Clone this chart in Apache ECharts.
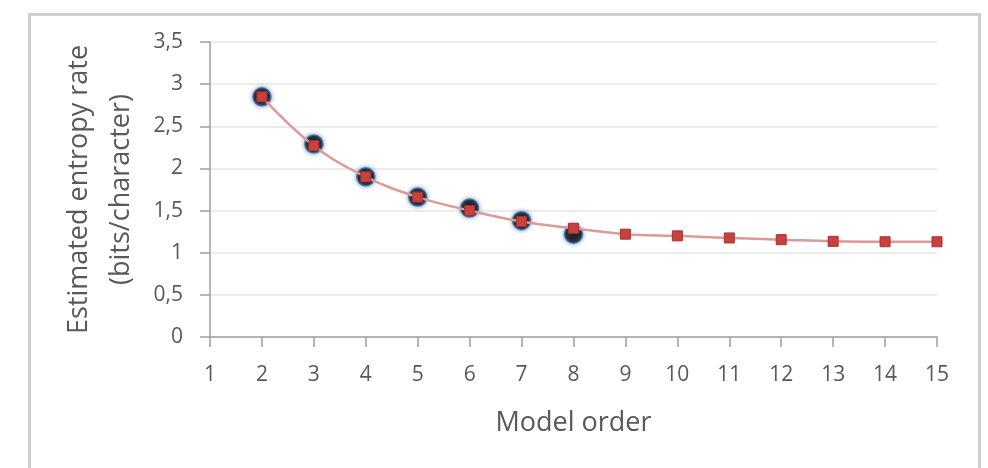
<!DOCTYPE html>
<html>
<head>
<meta charset="utf-8">
<style>
html,body{margin:0;padding:0;background:#fff;}
#c{width:988px;height:468px;}
</style>
<script src="https://cdn.jsdelivr.net/npm/echarts@6/dist/echarts.min.js"></script>
</head>
<body>
<div id="c"></div>
<script>
var measuredOrders = [2, 3, 4, 5, 6, 7, 8];
var measuredValues = [2.85, 2.29, 1.90, 1.66, 1.53, 1.38, 1.22];
var fitOrders = [2, 3, 4, 5, 6, 7, 8, 9, 10, 11, 12, 13, 14, 15];
var fitValues = [2.85, 2.27, 1.90, 1.66, 1.50, 1.37, 1.29, 1.22, 1.20, 1.175, 1.155, 1.135, 1.13, 1.13];
var xTicks = [1, 15, 1];   // min, max, interval
var yTicks = [0, 3.5, 0.5];
var xName = 'Model order';
var yName = 'Estimated entropy rate\n(bits/character)';

function pairs(xs, ys){ return xs.map(function(x,i){ return [x, ys[i]]; }); }

var font = '"Open Sans", "Noto Sans", sans-serif';
var chart = echarts.init(document.getElementById('c'));
chart.setOption({
  animation: false,
  backgroundColor: '#fff',
  graphic: [{
    type: 'rect', left: 27, top: 12,
    shape: {x: 0, y: 0, width: 950, height: 520},
    style: {fill: 'none', stroke: '#cfcfcf', lineWidth: 3},
    z: -1
  }],
  grid: {left: 210, right: 51, top: 42, bottom: 131},
  xAxis: {
    type: 'value', min: xTicks[0], max: xTicks[1], interval: xTicks[2],
    name: xName, nameLocation: 'middle', nameGap: 73,
    nameTextStyle: {fontFamily: font, fontSize: 27, color: '#595959'},
    axisLine: {show: true, lineStyle: {color: '#a0a0a0', width: 1.5}},
    axisTick: {show: true, length: 10, lineStyle: {color: '#a0a0a0', width: 1.5}},
    axisLabel: {fontFamily: font, fontSize: 21, color: '#595959', margin: 28},
    splitLine: {show: false}
  },
  yAxis: {
    type: 'value', min: yTicks[0], max: yTicks[1], interval: yTicks[2],
    name: yName, nameLocation: 'middle', nameGap: 66,
    nameTextStyle: {fontFamily: font, fontSize: 27, color: '#595959', lineHeight: 42},
    axisLine: {show: true, lineStyle: {color: '#a0a0a0', width: 1.5}},
    axisTick: {show: true, length: 10, lineStyle: {color: '#a0a0a0', width: 1.5}},
    axisLabel: {fontFamily: font, fontSize: 21, color: '#595959', margin: 27,
      formatter: function(v){ return String(v).replace('.', ','); }},
    splitLine: {show: true, lineStyle: {color: '#e6e6e6', width: 1.5}}
  },
  series: [{
    name: 'Measured', type: 'scatter',
    data: pairs(measuredOrders, measuredValues),
    symbol: 'circle', symbolSize: 18,
    itemStyle: {color: '#050505', borderColor: '#3a6ea5', borderWidth: 1.5,
      shadowBlur: 4, shadowColor: 'rgba(60,110,170,0.8)'},
    z: 2
  }, {
    name: 'Fit', type: 'line', smooth: 0.4,
    data: pairs(fitOrders, fitValues),
    symbol: 'rect', symbolSize: 10, showAllSymbol: true,
    lineStyle: {color: '#dc9a98', width: 2.5},
    itemStyle: {color: '#c8413e', borderColor: '#a33330', borderWidth: 1},
    z: 3
  }]
});
</script>
</body>
</html>
